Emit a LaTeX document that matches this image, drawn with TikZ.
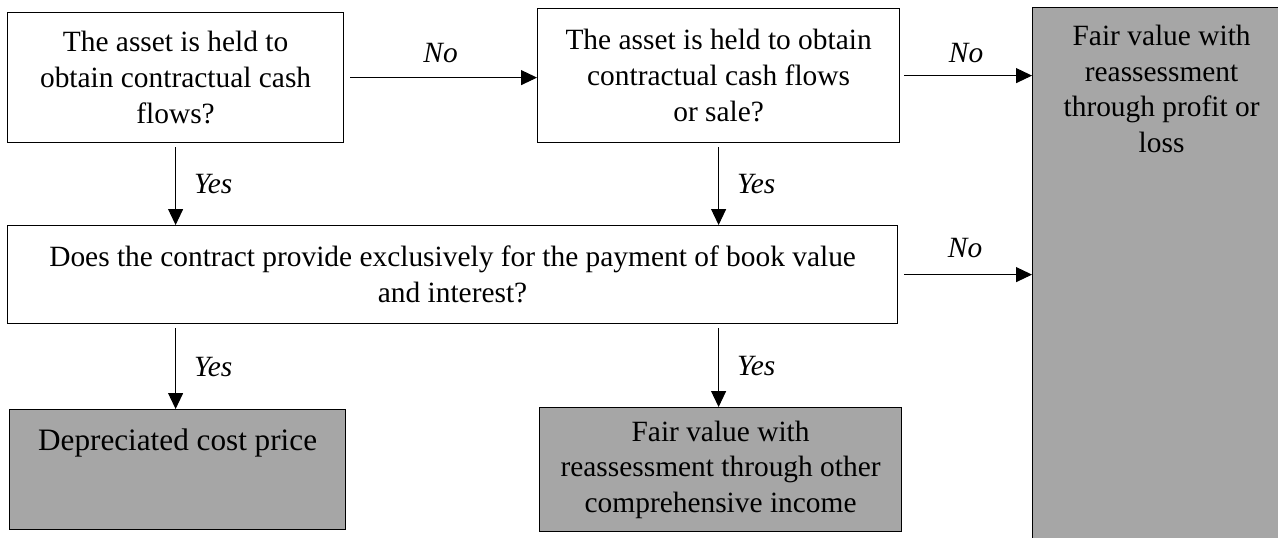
\documentclass[tikz,border=0pt]{standalone}
\usepackage{fontspec}
\setmainfont{Liberation Serif}
\usetikzlibrary{arrows.meta,positioning}
\definecolor{boxgray}{HTML}{A6A6A6}

\begin{document}
\begin{tikzpicture}[x=0.5pt, y=-0.5pt,
  box/.style={draw, line width=0.6pt, inner sep=0pt, align=flush center, anchor=north west,
    font=\fontsize{14.7}{17.8}\selectfont},
  result/.style={box, fill=boxgray},
  link/.style={-{Triangle[length=8pt,width=7.5pt]}, line width=0.5pt},
  yn/.style={font=\fontsize{14.7}{17.8}\selectfont\itshape, inner sep=0pt}]

  \useasboundingbox (0,0) rectangle (1278,537);

  % questions
  \node[box, minimum width=168pt, minimum height=65pt] (held) at (7,12)
    {The asset is held to\\obtain contractual cash\\flows?};
  \node[box, minimum width=181pt, minimum height=67pt] (sale) at (537,8)
    {The asset is held to obtain\\contractual cash flows\\or sale?};
  \node[box, minimum width=445pt, minimum height=49pt] (pay) at (7,225)
    {Does the contract provide exclusively for the payment of book value\\and interest?};

  % outcomes
  \node[result, text width=129pt, text height=19pt, text depth=250pt] (fvpl) at (1032,7)
    {Fair value with\\reassessment\\through profit or\\loss};
  \node[result, text width=168pt, text height=20.5pt, text depth=39.5pt,
    font=\fontsize{15.6}{18.7}\selectfont] (cost) at (9,409) {Depreciated cost price};
  \node[result, minimum width=181pt, minimum height=62pt] (oci) at (539,407)
    {Fair value with\\reassessment through other\\comprehensive income};

  \draw[link, shorten <=3pt] (held.east) -- node[yn, above=7pt] (no1) {No} (held.east -| sale.west);
  \draw[link, shorten <=2pt] (sale.east) -- node[yn, above=6pt] (no2) {No} (sale.east -| fvpl.west);
  \draw[link, shorten <=3pt] (pay.east) -- node[yn, above=8pt] (no3) {No} (pay.east -| fvpl.west);

  \draw[link, shorten <=2pt] (held.south) -- node[yn, right=9pt] (yes1) {Yes} (held.south |- pay.north);
  \draw[link, shorten <=2pt] (sale.south) -- node[yn, right=9pt] (yes2) {Yes} (sale.south |- pay.north);
  \draw[link, shorten <=2pt] (held.south |- pay.south) -- node[yn, right=9pt] (yes3) {Yes} (held.south |- cost.north);
  \draw[link, shorten <=2pt] (sale.south |- pay.south) -- node[yn, right=9pt] (yes4) {Yes} (sale.south |- oci.north);
\end{tikzpicture}
\end{document}
